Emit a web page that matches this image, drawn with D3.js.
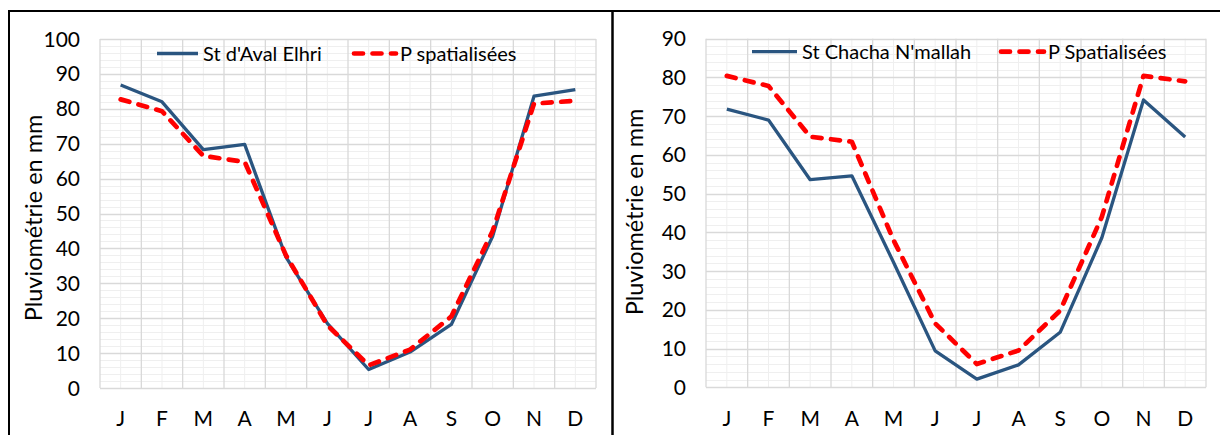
<!DOCTYPE html>
<html><head><meta charset="utf-8">
<script src="https://cdn.jsdelivr.net/npm/d3@7"></script>
<style>
html,body{margin:0;padding:0;background:#fff;}
svg{display:block;font-family:Lato,"Open Sans",sans-serif;}
</style></head>
<body>
<svg id="c" width="1220" height="435"></svg>
<script>
const months = ["J","F","M","A","M","J","J","A","S","O","N","D"];
const leftStation = [86.8, 82, 68.3, 69.8, 37.5, 18.5, 5.3, 10.3, 18.2, 43.5, 83.6, 85.5];
const leftSpatial = [82.7, 79.3, 66.5, 64.8, 38, 18, 6.5, 11, 20.5, 45, 81.5, 82.3];
const rightStation = [71.8, 69, 53.6, 54.6, 32.3, 9.4, 2.1, 5.8, 14.2, 38.6, 74.2, 64.6];
const rightSpatial = [80.4, 77.8, 64.7, 63.4, 38, 16.5, 6, 9.5, 19.8, 44, 80.4, 79];
const leftTicks = [0,10,20,30,40,50,60,70,80,90,100];
const rightTicks = [0,10,20,30,40,50,60,70,80,90];
const yTitle = "Pluviométrie en mm";

const svg = d3.select("#c");
const BLUE = "#2a5580", RED = "#ff0000";

// frame
svg.append("line").attr("x1",9).attr("x2",1220).attr("y1",11).attr("y2",11).attr("stroke","#000").attr("stroke-width",2);
svg.append("line").attr("x1",9).attr("x2",9).attr("y1",10).attr("y2",435).attr("stroke","#000").attr("stroke-width",2);
svg.append("line").attr("x1",612.5).attr("x2",612.5).attr("y1",10).attr("y2",435).attr("stroke","#000").attr("stroke-width",2.5);

function panel(o){
  const g = svg.append("g");
  const x = d3.scaleBand().domain(d3.range(months.length)).range([o.x0,o.x1]);
  const y = d3.scaleLinear().domain([0,o.max]).range([o.yb,o.yt]);
  const bw = x.bandwidth();
  const minor = d3.range(0,o.max+0.001,2).filter(v=>v%10!==0);
  g.selectAll(".mh").data(minor).join("line")
    .attr("x1",o.x0).attr("x2",o.x1).attr("y1",d=>Math.round(y(d))+0.5).attr("y2",d=>Math.round(y(d))+0.5)
    .attr("stroke","#efefef").attr("stroke-width",1);
  g.selectAll(".mv").data(d3.range(months.length)).join("line")
    .attr("x1",d=>x(d)+bw/2).attr("x2",d=>x(d)+bw/2).attr("y1",o.yt).attr("y2",o.yb)
    .attr("stroke","#efefef").attr("stroke-width",1);
  g.selectAll(".Mh").data(o.ticks).join("line")
    .attr("x1",o.x0).attr("x2",o.x1).attr("y1",d=>Math.round(y(d))+0.5).attr("y2",d=>Math.round(y(d))+0.5)
    .attr("stroke","#d9d9d9").attr("stroke-width",1.3);
  g.selectAll(".Mv").data(d3.range(months.length+1)).join("line")
    .attr("x1",d=>o.x0+d*bw).attr("x2",d=>o.x0+d*bw).attr("y1",o.yt).attr("y2",o.yb)
    .attr("stroke","#d9d9d9").attr("stroke-width",1.3);

  g.selectAll(".yt").data(o.ticks).join("text")
    .attr("x",o.x0-20).attr("y",d=>y(d)).attr("dy","0.36em").attr("text-anchor","end")
    .attr("font-size",21).attr("fill","#000").text(d=>d);
  g.selectAll(".xt").data(months).join("text")
    .attr("x",(d,i)=>x(i)+bw/2).attr("y",426).attr("text-anchor","middle")
    .attr("font-size",21).attr("fill","#000").text(d=>d);
  g.append("text").attr("transform",`translate(${o.tx},${o.tyc}) rotate(-90)`)
    .attr("text-anchor","middle").attr("font-size",23.5).attr("fill","#000").text(yTitle);

  const line = d3.line().x((d,i)=>x(i)+bw/2).y(d=>y(d));
  g.append("path").datum(o.station).attr("d",line).attr("fill","none")
    .attr("stroke",BLUE).attr("stroke-width",3.3).attr("stroke-linejoin","round");
  g.append("path").datum(o.spatial).attr("d",line).attr("fill","none")
    .attr("stroke",RED).attr("stroke-width",4.7).attr("stroke-dasharray","9,9.5").attr("stroke-linecap","round").attr("stroke-linejoin","round");

  const L = o.legend;
  g.append("line").attr("x1",L.b0).attr("x2",L.b1).attr("y1",L.ly).attr("y2",L.ly).attr("stroke",BLUE).attr("stroke-width",3.3);
  g.append("text").attr("x",L.b1+5).attr("y",L.ty).attr("font-size",20).attr("fill","#000").text(o.names[0]);
  g.append("line").attr("x1",L.r0).attr("x2",L.r1).attr("y1",L.ly).attr("y2",L.ly).attr("stroke",RED).attr("stroke-width",4.7)
    .attr("stroke-dasharray","9,9.5").attr("stroke-linecap","round");
  g.append("text").attr("x",L.r1+4).attr("y",L.ty).attr("font-size",20).attr("fill","#000").text(o.names[1]);
}

panel({x0:100,x1:596,yt:39,yb:388,max:100,ticks:leftTicks,station:leftStation,spatial:leftSpatial,tx:42,tyc:218,
  names:["St d'Aval Elhri","P spatialisées"],legend:{b0:157,b1:198,r0:354,r1:396,ly:53.5,ty:61}});
panel({x0:706,x1:1206,yt:38.7,yb:387.3,max:90,ticks:rightTicks,station:rightStation,spatial:rightSpatial,tx:643,tyc:212,
  names:["St Chacha N'mallah","P Spatialisées"],legend:{b0:752,b1:797,r0:1001,r1:1044,ly:51.7,ty:59}});
</script>
</body></html>
